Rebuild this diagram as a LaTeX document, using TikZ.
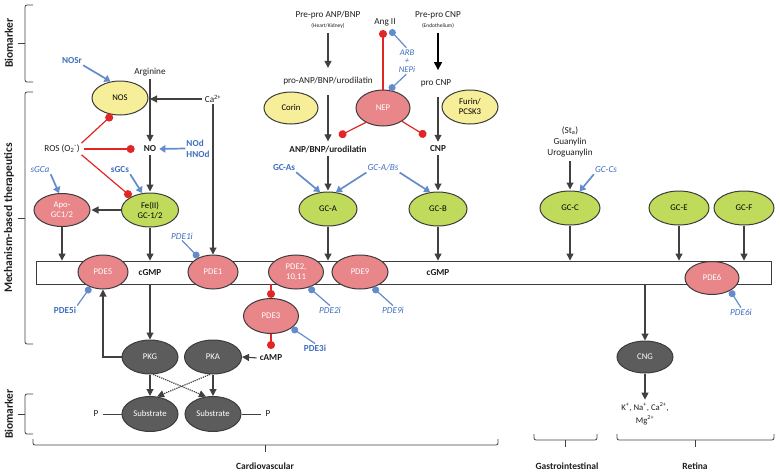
\documentclass[tikz,border=0pt]{standalone}
\usepackage{fontspec}
\setmainfont{Carlito}
\usetikzlibrary{shapes.geometric,arrows.meta}
\definecolor{edgec}{RGB}{60,60,60}
\definecolor{arrc}{RGB}{64,64,64}
\definecolor{txtc}{RGB}{30,30,30}
\definecolor{yelc}{RGB}{246,238,152}
\definecolor{grnc}{RGB}{192,218,92}
\definecolor{pnkc}{RGB}{232,134,138}
\definecolor{drkc}{RGB}{92,92,92}
\definecolor{bluec}{RGB}{62,110,190}
\definecolor{bluel}{RGB}{100,140,205}
\definecolor{redc}{RGB}{226,38,38}
\tikzset{
 every node/.style={font=\fontsize{8.7}{10}\selectfont, inner sep=1pt, text=txtc},
 ell/.style={ellipse, draw=edgec, line width=1pt, inner sep=0pt, minimum width=56pt, minimum height=34pt, align=center},
 yel/.style={ell, fill=yelc, text=black},
 grn/.style={ell, fill=grnc, text=black},
 pnk/.style={ell, fill=pnkc, text=white},
 drk/.style={ell, fill=drkc, text=white},
 lbl/.style={font=\fontsize{9.2}{10.5}\selectfont},
 lblb/.style={font=\fontsize{9.2}{10.5}\selectfont\bfseries},
 smalltxt/.style={font=\fontsize{5.5}{6}\selectfont},
 bluelb/.style={text=bluec, font=\fontsize{9.2}{10.5}\selectfont\bfseries},
 bluei/.style={text=bluec, font=\fontsize{9.2}{10.5}\selectfont\itshape},
 garr/.style={draw=arrc, line width=1.1pt, -{Triangle[length=7pt,width=7pt]}},
 karr/.style={draw=black, line width=1.3pt, -{Triangle[length=8pt,width=8pt]}},
 barr/.style={draw=bluel, line width=1.7pt, -{Triangle[length=6pt,width=7.5pt]}},
 binh/.style={draw=bluel, line width=1.2pt, -{Circle[length=7pt]}},
 rinh/.style={draw=redc, line width=1.2pt, -{Circle[length=8pt]}},
 gline/.style={draw=arrc, line width=0.9pt},
 dotarr/.style={draw=arrc, line width=1.2pt, densely dotted, -{Triangle[length=7pt,width=7pt]}},
 brc/.style={draw=arrc, line width=0.8pt, rounded corners=2pt},
 sidelbl/.style={font=\fontsize{11.5}{12}\selectfont\bfseries, rotate=90, text=txtc},
 reglbl/.style={font=\fontsize{9.5}{10}\selectfont\bfseries},
}
\begin{document}
\begin{tikzpicture}[x=1pt,y=-1pt]
\useasboundingbox (0,0) rectangle (780,472);
% side labels and braces
\node[sidelbl] (bio1) at (9,43) {Biomarker};
\node[sidelbl] (mech) at (9,218) {Mechanism-based therapeutics};
\node[sidelbl] (bio2) at (9,414) {Biomarker};
\draw[brc] (33,5) -- (25,5) -- (25,82) -- (33,82);
\draw[gline] (25,43) -- (18,43);
\draw[brc] (33,92) -- (25,92) -- (25,344) -- (33,344);
\draw[gline] (25,218) -- (18,218);
\draw[brc] (33,394) -- (25,394) -- (25,434) -- (33,434);
\draw[gline] (25,414) -- (18,414);
% bottom braces
\draw[brc] (33,439) -- (33,445) -- (498,445) -- (498,439);
\draw[gline] (265,445) -- (265,452);
\draw[brc] (534,434) -- (534,440) -- (597,440) -- (597,434);
\draw[gline] (565,440) -- (565,447);
\draw[brc] (617,434) -- (617,440) -- (774,440) -- (774,434);
\draw[gline] (695,440) -- (695,447);
\node[reglbl] (cardio) at (265,466) {Cardiovascular};
\node[reglbl] (gastro) at (567,466) {Gastrointestinal};
\node[reglbl] (retina) at (695,466) {Retina};

% cGMP bar
\node[draw=edgec, line width=0.9pt, fill=white, minimum width=735pt, minimum height=23pt, inner sep=0pt] (bar) at (403.5,272.5) {};
\node[lblb] (cgmp1) at (150,273) {cGMP};
\node[lblb] (cgmp2) at (438,273) {cGMP};

% NO pathway
\node[lbl] (arg) at (150,72) {Arginine};
\node[lbl] (ca) at (213,99) {Ca\textsuperscript{2+}};
\node[yel] (nos) at (120,98) {NOS};
\node[lbl] (ros) at (62,149) {ROS (O\textsubscript{2}\textsuperscript{-})};
\node[lblb] (no) at (150,149) {NO};
\node[bluelb, align=left, font=\fontsize{9.2}{11}\selectfont\bfseries] (nod) at (198,148.5) {NOd\\HNOd};
\node[grn, minimum width=57pt] (fe) at (150,210) {Fe(II)\\GC-1/2};
\node[pnk, minimum width=56pt, minimum height=33pt] (apo) at (62,210) {Apo-\\GC1/2};
\node[bluelb] (sgcs) at (120,170) {sGCs};
\node[bluei] (sgca) at (40,170) {sGCa};
\node[bluelb] (nosr) at (72,61) {NOSr};

\draw[garr, shorten <=2pt, shorten >=3pt] (arg.south) -- (no.north);
\draw[garr, shorten <=2pt] (ca.west) -- (ca.west -| arg.south);
\draw[garr, shorten >=1pt] (fe.west) -- (apo.east);
\draw[garr, shorten <=2pt, shorten >=1pt] (no.south) -- (fe.north);
\draw[garr] (apo.south) -- (apo.south |- bar.north);
\draw[garr] (fe.south) -- (fe.south |- bar.north);
\draw[rinh, shorten <=1pt] (ros.north east) -- (nos.245);
\draw[rinh, shorten <=3pt, shorten >=8pt] (ros.east) -- (no.west);
\draw[rinh, shorten <=1pt] (ros.south east) -- (fe.145);
\draw[barr] (nosr.south east) -- (nos.120);
\draw[barr, shorten >=2pt] (nod.west) -- (no.east);
\draw[barr] (sgcs.south east) -- (fe.115);
\draw[barr] (sgca.south east) -- (apo.100);

% PDEs in bar
\node[pnk, minimum width=50pt] (pde5) at (103,272) {PDE5};
\node[pnk, minimum width=50pt] (pde1) at (213,272) {PDE1};
\node[pnk, minimum width=55pt] (pde2) at (296,272) {PDE2,\\10,11};
\node[pnk, minimum width=56pt] (pde9) at (360,272) {PDE9};
\node[pnk, minimum width=54pt, minimum height=33pt] (pde6) at (712,278) {PDE6};
\node[pnk, minimum width=55pt, minimum height=35pt] (pde3) at (271,316) {PDE3};
\draw[garr] (ca.south) -- (pde1.north);

\node[bluei] (pde1i) at (182,236) {PDE1i};
\node[bluelb] (pde5i) at (65,310) {PDE5i};
\node[bluei] (pde2i) at (330,310) {PDE2i};
\node[bluei] (pde9i) at (393,310) {PDE9i};
\node[bluelb] (pde3i) at (315,348) {PDE3i};
\node[bluei] (pde6i) at (741,312) {PDE6i};
\draw[binh] (pde1i.south) -- (pde1.135);
\draw[binh] (pde5i.north east) -- (pde5.230);
\draw[binh] (pde2i.north) -- (pde2.-50);
\draw[binh] (pde9i.north) -- (pde9.-50);
\draw[binh] (pde3i.north) -- (pde3.-30);
\draw[binh] (pde6i.north) -- (pde6.-35);

% PDE3 / cAMP
\node[lblb] (camp) at (271,358) {cAMP};
\coordinate (campi) at (271,349);
\draw[rinh] (pde3.north |- bar.south) -- (pde3.north);
\draw[rinh] (pde3.south) -- (campi);

% kinases
\node[drk] (pkg) at (150,357) {PKG};
\node[drk, minimum width=57pt] (pka) at (213,357) {PKA};
\node[drk, minimum height=35pt] (subl) at (150,414) {Substrate};
\node[drk, minimum height=35pt] (subr) at (213,414) {Substrate};
\node[lbl] (pl) at (96,414) {P};
\node[lbl] (pr) at (268,414) {P};
\draw[garr] (pkg.north |- bar.south) -- (pkg.north);
\draw[garr] (pkg.west) -| (pde5.south);
\draw[garr, shorten <=2pt] (camp.west) -- (pka.east);
\draw[garr] (pkg.south) -- (subl.north);
\draw[garr] (pka.south) -- (subr.north);
\draw[dotarr] (pkg.-80) -- (subr.112);
\draw[dotarr] (pka.-100) -- (subl.68);
\draw[gline, shorten <=3pt] (pl.east) -- (subl.west);
\draw[gline, shorten >=3pt] (subr.east) -- (pr.west);

% natriuretic peptides
\node[lbl] (ppanp) at (328,15) {Pre-pro ANP/BNP};
\node[smalltxt] (hk) at (328,26) {(Heart/Kidney)};
\node[lbl] (proanp) at (328,81) {pro-ANP/BNP/urodilatin};
\node[lblb] (anp) at (328,149) {ANP/BNP/urodilatin};
\node[grn, minimum width=58pt] (gca) at (328,209) {GC-A};
\node[lbl] (angii) at (385,22) {Ang II};
\node[lbl] (ppcnp) at (438,15) {Pre-pro CNP};
\node[smalltxt] (endo) at (438,26) {(Endothelium)};
\node[lbl] (procnp) at (436,83) {pro CNP};
\node[lblb] (cnp) at (438,149) {CNP};
\node[grn, minimum width=58pt] (gcb) at (438,209) {GC-B};
\node[yel, minimum width=54pt, minimum height=32pt] (corin) at (291,108) {Corin};
\node[pnk, minimum width=54pt, minimum height=36pt] (nep) at (383,108) {NEP};
\node[yel, minimum width=56pt] (furin) at (470,107) {Furin/\\PCSK3};
\node[bluei, align=center, font=\fontsize{8.7}{8.6}\selectfont\itshape] (arb) at (407,61) {ARB\\+\\NEPi};
\coordinate (arbang) at (390,30);
\coordinate (nepl) at (339,136);
\coordinate (nepr) at (426,136);

\draw[garr, shorten <=3pt, shorten >=8pt] (hk.south) -- (proanp.north);
\draw[garr, shorten <=9pt, shorten >=3pt] (proanp.south) -- (anp.north);
\draw[garr, shorten <=2pt, shorten >=1pt] (anp.south) -- (gca.north);
\draw[garr] (gca.south) -- (gca.south |- bar.north);
\draw[karr, shorten <=3pt, shorten >=8pt] (endo.south) -- (endo.south |- procnp.north);
\draw[garr, shorten <=9pt, shorten >=3pt] (procnp.south -| cnp.north) -- (cnp.north);
\draw[garr, shorten <=2pt, shorten >=1pt] (cnp.south) -- (gcb.north);
\draw[garr] (gcb.south) -- (gcb.south |- bar.north);
\draw[rinh, shorten >=3pt] (nep.north) -- (nep.north |- angii.south);
\draw[binh, shorten <=1pt] (arb.north) -- (arbang);
\draw[binh, shorten <=1pt] (arb.south) -- (nep.70);
\draw[rinh] (nep.220) -- (nepl);
\draw[rinh] (nep.-35) -- (nepr);

\node[bluelb] (gcas) at (284,168) {GC-As};
\node[bluei] (gcabs) at (383,168) {GC-A/Bs};
\draw[barr] (gcas.south east) -- (gca.115);
\draw[barr] (gcabs.south west) -- (gca.65);
\draw[barr] (gcabs.south east) -- (gcb.115);

% GC-C, GC-E, GC-F
\node[lbl, align=center, font=\fontsize{9.2}{11}\selectfont] (gua) at (570,142) {(St\textsubscript{a})\\Guanylin\\Uroguanylin};
\node[grn, minimum width=60pt] (gcc) at (570,208) {GC-C};
\node[grn, minimum width=60pt] (gce) at (679,208) {GC-E};
\node[grn, minimum width=60pt] (gcf) at (744,208) {GC-F};
\node[bluei] (gccs) at (606,170) {GC-Cs};
\draw[garr, shorten <=3pt, shorten >=1pt] (gua.south) -- (gcc.north);
\draw[barr] (gccs.south west) -- (gcc.60);
\draw[garr] (gcc.south) -- (gcc.south |- bar.north);
\draw[garr] (gce.south) -- (gce.south |- bar.north);
\draw[garr] (gcf.south) -- (gcf.south |- bar.north);

% CNG
\node[drk, minimum height=32pt] (cng) at (645,357) {CNG};
\node[lbl, align=center, font=\fontsize{8.7}{13}\selectfont] (ions) at (645,414) {K\textsuperscript{+}, Na\textsuperscript{+}, Ca\textsuperscript{2+},\\Mg\textsuperscript{2+}};
\draw[garr] (cng.north |- bar.south) -- (cng.north);
\draw[garr, shorten >=2pt] (cng.south) -- (ions.north);
\end{tikzpicture}
\end{document}
